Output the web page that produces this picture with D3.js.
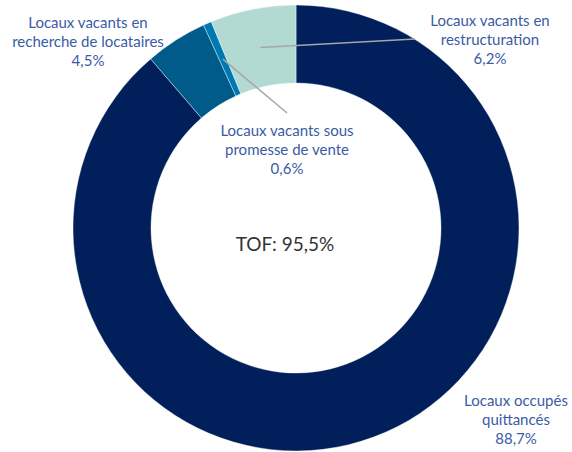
<!DOCTYPE html>
<html>
<head>
<meta charset="utf-8">
<script src="https://cdn.jsdelivr.net/npm/d3@7"></script>
<style>
  body { margin: 0; background: #fff; }
  text { font-family: Lato, "Open Sans", sans-serif; }
</style>
</head>
<body>
<script>
// categories, clockwise from 12 o'clock
var categories = ["Locaux occupés quittancés", "Locaux vacants en recherche de locataires",
                  "Locaux vacants sous promesse de vente", "Locaux vacants en restructuration"];
var values = [88.7, 4.5, 0.6, 6.2];
var labelLines = [
  ["Locaux occupés", "quittancés", "88,7%"],
  ["Locaux vacants en", "recherche de locataires", "4,5%"],
  ["Locaux vacants sous", "promesse de vente", "0,6%"],
  ["Locaux vacants en", "restructuration", "6,2%"]
];
var centerLabel = "TOF: 95,5%";

var colors = ["#001f5b", "#005b8b", "#0079b2", "#b3d9d3"];
// label anchor (text centre, first baseline) and optional leader end
var labelPos = [
  {x: 516, y: 406, leader: null},
  {x: 88, y: 28, leader: null},
  {x: 287, y: 136, leader: [287, 113]},
  {x: 490, y: 26, leader: [415, 39]}
];

var width = 572, height = 452;
var cx = 296, cy = 228, rOuter = 223, rInner = 145;

var svg = d3.select("body").append("svg")
    .attr("width", width)
    .attr("height", height);

var pie = d3.pie().sort(null).value(function(d) { return d; });
var arc = d3.arc().innerRadius(rInner).outerRadius(rOuter);

var g = svg.append("g").attr("transform", "translate(" + cx + "," + cy + ")");
var arcs = pie(values);

g.selectAll("path")
  .data(arcs)
  .enter()
  .append("path")
  .attr("d", arc)
  .attr("fill", function(d, i) { return colors[i]; })
  .attr("stroke", "#fff")
  .attr("stroke-width", 0.4);

// leader lines from slice centroid to label
arcs.forEach(function(d, i) {
  var p = labelPos[i];
  if (!p.leader) return;
  var c = arc.centroid(d);
  svg.append("line")
    .attr("x1", cx + c[0]).attr("y1", cy + c[1])
    .attr("x2", p.leader[0]).attr("y2", p.leader[1])
    .attr("stroke", "#a6a6a6")
    .attr("stroke-width", 1.5);
});

// slice labels
labelLines.forEach(function(lines, i) {
  var p = labelPos[i];
  var t = svg.append("text")
    .attr("text-anchor", "middle")
    .attr("font-size", 15)
    .attr("fill", "#3b5ba5");
  lines.forEach(function(s, j) {
    t.append("tspan").attr("x", p.x).attr("y", p.y + j * 19).text(s);
  });
});

svg.append("text")
  .attr("x", 285).attr("y", 251)
  .attr("text-anchor", "middle")
  .attr("font-size", 19)
  .attr("fill", "#333")
  .text(centerLabel);
</script>
</body>
</html>
